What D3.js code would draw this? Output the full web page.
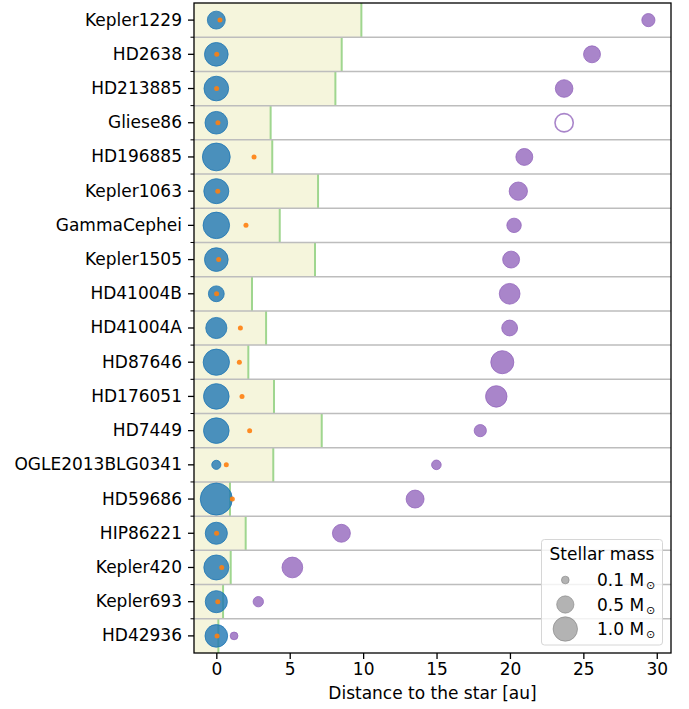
<!doctype html>
<html>
  <head>
    <script src="https://cdnjs.cloudflare.com/ajax/libs/d3/7.8.5/d3.min.js"></script>
  <style>
    body { margin: 0; background: #fff; }
    svg { font-family: "DejaVu Sans", sans-serif; }
    .domain { stroke: none; }
  </style>
  </head>
  <body>
    <svg id="chart" width="689" height="709"></svg>
    <script>
      // one entry per row, top to bottom
      var systems = ["Kepler1229", "HD2638", "HD213885", "Gliese86", "HD196885", "Kepler1063",
        "GammaCephei", "Kepler1505", "HD41004B", "HD41004A", "HD87646", "HD176051", "HD7449",
        "OGLE2013BLG0341", "HD59686", "HIP86221", "Kepler420", "Kepler693", "HD42936"];
      var starMass   = [0.54, 0.94, 1.02, 0.86, 1.30, 1.05, 1.18, 0.94, 0.42, 0.75, 1.16, 1.10, 1.10, 0.14, 1.73, 0.82, 1.05, 0.82, 0.86];
      var planetDist = [0.25, 0.03, 0.02, 0.11, 2.57, 0.10, 2.02, 0.16, 0.02, 1.64, 1.57, 1.75, 2.27, 0.68, 1.09, 0.02, 0.37, 0.10, 0.05];
      var zoneEdge   = [9.88, 8.54, 8.11, 3.70, 3.81, 6.93, 4.32, 6.72, 2.43, 3.39, 2.18, 3.93, 7.18, 3.88, 0.93, 2.00, 0.98, 0.46, 0.14];
      var compDist   = [29.43, 25.59, 23.69, 23.69, 20.98, 20.57, 20.28, 20.08, 19.98, 19.98, 19.48, 19.07, 17.98, 14.99, 13.54, 8.52, 5.18, 2.86, 1.21];
      var compMass   = [0.29, 0.48, 0.52, 0.56, 0.48, 0.56, 0.35, 0.48, 0.72, 0.42, 0.89, 0.77, 0.25, 0.155, 0.54, 0.54, 0.72, 0.18, 0.10];
      var compWD     = [false, false, false, true, false, false, false, false, false, false, false, false, false, false, false, false, false, false, false];
      var xTicks = [0, 5, 10, 15, 20, 25, 30];
      var legendMass = [0.1, 0.5, 1.0];

      var svg = d3.select("#chart");
      var mLeft = 194, mRight = 671, mTop = 3, mBottom = 653;
      var fs = 17;

      var xScale = d3.scaleLinear().domain([-1.52, 30.97]).range([mLeft, mRight]);
      var yScale = d3.scaleBand().domain(systems).range([mTop, mBottom]).padding(0);
      var rScale = d3.scaleSqrt().domain([0, 1]).range([0, 12.2]);
      var bw = yScale.bandwidth();
      var rows = systems.map((s, i) => ({name: s, i: i}));

      // beige zones
      svg.selectAll("rect.zone").data(rows).enter().append("rect")
        .attr("x", mLeft)
        .attr("y", d => yScale(d.name))
        .attr("width", d => xScale(zoneEdge[d.i]) - mLeft)
        .attr("height", bw)
        .attr("fill", "#f5f5dc");

      svg.selectAll("line.edge").data(rows).enter().append("line")
        .attr("x1", d => xScale(zoneEdge[d.i]))
        .attr("x2", d => xScale(zoneEdge[d.i]))
        .attr("y1", d => yScale(d.name))
        .attr("y2", d => yScale(d.name) + bw)
        .attr("stroke", "#9fd68f")
        .attr("stroke-width", 2);

      // row separators
      svg.selectAll("line.sep").data(rows.slice(1)).enter().append("line")
        .attr("x1", mLeft).attr("x2", mRight)
        .attr("y1", d => yScale(d.name))
        .attr("y2", d => yScale(d.name))
        .attr("stroke", "#bdbdbd")
        .attr("stroke-width", 1.5);

      var cy = d => yScale(d.name) + bw / 2;

      // host stars
      svg.selectAll("circle.star").data(rows).enter().append("circle")
        .attr("cx", xScale(0))
        .attr("cy", cy)
        .attr("r", d => rScale(starMass[d.i]))
        .attr("fill", "#1f77b4").attr("fill-opacity", 0.8)
        .attr("stroke", "#1f77b4").attr("stroke-opacity", 0.8);

      // companions
      svg.selectAll("circle.comp").data(rows).enter().append("circle")
        .attr("cx", d => xScale(compDist[d.i]))
        .attr("cy", cy)
        .attr("r", d => rScale(compMass[d.i]))
        .attr("fill", d => compWD[d.i] ? "#fff" : "#9467bd")
        .attr("fill-opacity", 0.8)
        .attr("stroke", "#9467bd").attr("stroke-opacity", 0.8)
        .attr("stroke-width", d => compWD[d.i] ? 1.6 : 1);

      // planets
      svg.selectAll("circle.planet").data(rows).enter().append("circle")
        .attr("cx", d => xScale(planetDist[d.i]))
        .attr("cy", cy)
        .attr("r", 2.5)
        .attr("fill", "#ff7f0e").attr("fill-opacity", 0.9);

      // frame
      svg.append("rect")
        .attr("x", mLeft).attr("y", mTop)
        .attr("width", mRight - mLeft).attr("height", mBottom - mTop)
        .attr("fill", "none").attr("stroke", "#000").attr("stroke-width", 1.3);

      // axes
      var xAxis = d3.axisBottom(xScale).tickValues(xTicks).tickSize(6).tickPadding(4);
      var gx = svg.append("g").attr("transform", "translate(0," + mBottom + ")").call(xAxis);
      gx.selectAll("text").attr("font-size", fs).attr("fill", "#000").attr("font-family", "DejaVu Sans");
      gx.selectAll("line").attr("stroke", "#000").attr("stroke-width", 1.3);

      var yAxis = d3.axisLeft(yScale).tickSize(6).tickPadding(6);
      var gy = svg.append("g").attr("transform", "translate(" + mLeft + ",0)").call(yAxis);
      gy.selectAll("text").attr("font-size", fs).attr("fill", "#000").attr("font-family", "DejaVu Sans");
      gy.selectAll("line").attr("stroke", "#000").attr("stroke-width", 1.3);

      // minor ticks at row boundaries
      svg.selectAll("line.minor").data(rows.slice(1)).enter().append("line")
        .attr("x1", mLeft - 3.5).attr("x2", mLeft)
        .attr("y1", d => yScale(d.name)).attr("y2", d => yScale(d.name))
        .attr("stroke", "#000").attr("stroke-width", 1);

      svg.append("text")
        .attr("x", (mLeft + mRight) / 2).attr("y", 699)
        .attr("text-anchor", "middle")
        .attr("font-size", fs)
        .text("Distance to the star [au]");

      // legend
      var lg = svg.append("g");
      lg.append("rect")
        .attr("x", 541.5).attr("y", 539.5).attr("width", 121).attr("height", 105.5)
        .attr("rx", 3)
        .attr("fill", "#fff").attr("fill-opacity", 0.8)
        .attr("stroke", "#d6d6d6");
      lg.append("text").attr("x", 602).attr("y", 560)
        .attr("text-anchor", "middle").attr("font-size", fs).text("Stellar mass");
      var ly = d3.scalePoint().domain(legendMass).range([580, 629]);
      var items = lg.selectAll("g.item").data(legendMass).enter().append("g");
      items.append("circle")
        .attr("cx", 565.3).attr("cy", d => ly(d))
        .attr("r", d => rScale(d))
        .attr("fill", "#808080").attr("fill-opacity", 0.6)
        .attr("stroke", "#808080").attr("stroke-opacity", 0.6);
      var t = items.append("text")
        .attr("x", 597).attr("y", d => ly(d) + 6)
        .attr("font-size", fs);
      t.append("tspan").text(d => d.toFixed(1) + " M");
      t.append("tspan").attr("font-size", 11).attr("dy", 3).attr("dx", 2).text("\u2299");
    </script>
  </body>
</html>
